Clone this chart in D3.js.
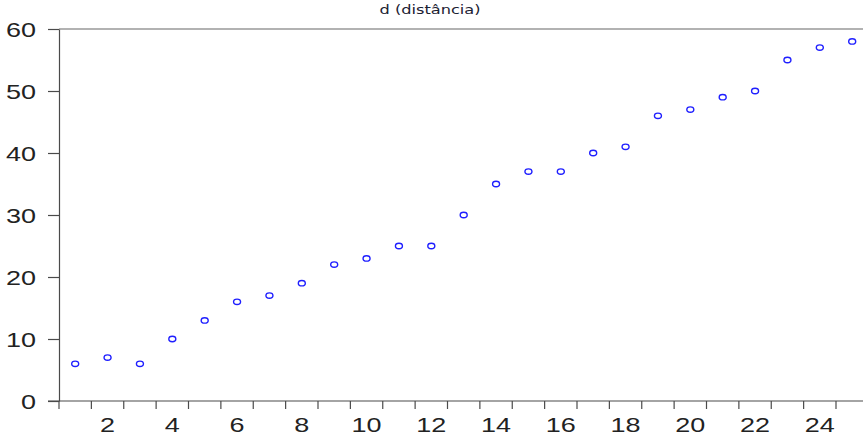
<!DOCTYPE html>
<html>
<head>
<meta charset="utf-8">
<script src="https://cdn.jsdelivr.net/npm/d3@7"></script>
<style>
  body { margin: 0; background: #fff; }
  svg { display: block; }
</style>
</head>
<body>
<div id="chart"></div>
<script>
const SVG_WIDTH = 863;
const SVG_HEIGHT = 438;
const TEXT_STRETCH = 1.35; // the reference text is drawn wide

// data
const obs = d3.range(1, 26);
const dist = [6, 7, 6, 10, 13, 16, 17, 19, 22, 23, 25, 25, 30, 35, 37, 37, 40, 41, 46, 47, 49, 50, 55, 57, 58];
const yTicks = [0, 10, 20, 30, 40, 50, 60];
const xLabels = [2, 4, 6, 8, 10, 12, 14, 16, 18, 20, 22, 24];
const title = "d (distância)";

var margin = {top: 29, left: 59, bottom: 37},
    bandW = 32.375;

var svg = d3.select("#chart")
    .append("svg")
    .attr("width", SVG_WIDTH)
    .attr("height", SVG_HEIGHT);

var x = d3.scaleBand()
    .domain(obs)
    .range([margin.left, margin.left + bandW * obs.length])
    .paddingInner(0)
    .paddingOuter(0);

var y = d3.scaleLinear()
    .domain([0, 60])
    .range([SVG_HEIGHT - margin.bottom, margin.top]);

var axisColor = "#4a4a4a";

// top frame line
svg.append("line")
    .attr("x1", margin.left).attr("x2", SVG_WIDTH)
    .attr("y1", y(60)).attr("y2", y(60))
    .attr("stroke", "#666").attr("stroke-width", 1.2);

// y axis
var yAxis = svg.append("g")
    .attr("transform", "translate(" + margin.left + ",0)")
    .call(d3.axisLeft(y).tickValues(yTicks).tickSize(11).tickPadding(12).tickSizeOuter(0));

yAxis.select(".domain").attr("stroke", axisColor).attr("stroke-width", 1.2);
yAxis.selectAll(".tick line").attr("stroke", axisColor).attr("stroke-width", 1.2);
yAxis.selectAll(".tick text")
    .attr("x", -23 / TEXT_STRETCH)
    .attr("transform", "scale(" + TEXT_STRETCH + ",1)")
    .attr("dy", "0.36em")
    .style("font-family", "'Liberation Sans', Arial, sans-serif")
    .style("font-size", "20px")
    .attr("fill", "#222");

// x axis: baseline from the 0 tick across
svg.append("line")
    .attr("x1", margin.left - 11).attr("x2", SVG_WIDTH)
    .attr("y1", y(0)).attr("y2", y(0))
    .attr("stroke", axisColor).attr("stroke-width", 1.2);

// ticks on band boundaries
var bounds = obs.map(function(d) { return x(d); }).concat([x(25) + x.bandwidth()]);
svg.append("g")
    .selectAll("line")
    .data(bounds)
    .enter()
    .append("line")
    .attr("x1", function(d) { return d; })
    .attr("x2", function(d) { return d; })
    .attr("y1", y(0))
    .attr("y2", y(0) + 8)
    .attr("stroke", axisColor)
    .attr("stroke-width", 1.2);

// labels centred in the bands
svg.append("g")
    .selectAll("text")
    .data(xLabels)
    .enter()
    .append("text")
    .attr("transform", function(d) {
        return "translate(" + (x(d) + x.bandwidth() / 2) + "," + 432 + ") scale(" + TEXT_STRETCH + ",1)";
    })
    .attr("text-anchor", "middle")
    .style("font-family", "'Liberation Sans', Arial, sans-serif")
    .style("font-size", "20px")
    .attr("fill", "#222")
    .text(function(d) { return d; });

// title
svg.append("text")
    .attr("x", 430)
    .attr("y", 14)
    .attr("text-anchor", "middle")
    .attr("textLength", 101)
    .attr("lengthAdjust", "spacingAndGlyphs")
    .style("font-family", "'DejaVu Sans', Verdana, sans-serif")
    .style("font-size", "12.5px")
    .attr("fill", "#1c2233")
    .text(title);

// points
svg.append("g")
    .selectAll("ellipse")
    .data(obs)
    .enter()
    .append("ellipse")
    .attr("cx", function(d) { return x(d) + x.bandwidth() / 2; })
    .attr("cy", function(d, i) { return y(dist[i]); })
    .attr("rx", 3.5)
    .attr("ry", 2.7)
    .attr("fill", "#fff")
    .attr("stroke", "#1f1fff")
    .attr("stroke-width", 1.4);
</script>
</body>
</html>
